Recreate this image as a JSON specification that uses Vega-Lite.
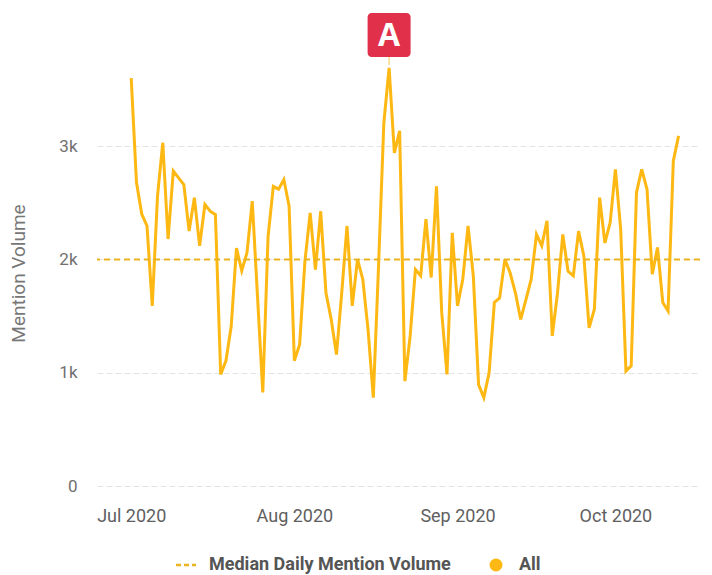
{
  "$schema": "https://vega.github.io/schema/vega-lite/v6.json",
  "width": 603,
  "height": 426,
  "autosize": "none",
  "padding": {"left": 97, "top": 60, "right": 12, "bottom": 89},
  "background": "white",
  "config": {
    "view": {"stroke": null},
    "font": "Roboto"
  },
  "datasets": {
    "series": [
      {"date": "2020-07-01", "mentions": 3600},
      {"date": "2020-07-02", "mentions": 2680},
      {"date": "2020-07-03", "mentions": 2400},
      {"date": "2020-07-04", "mentions": 2295},
      {"date": "2020-07-05", "mentions": 1590},
      {"date": "2020-07-06", "mentions": 2560},
      {"date": "2020-07-07", "mentions": 3030},
      {"date": "2020-07-08", "mentions": 2180},
      {"date": "2020-07-09", "mentions": 2780},
      {"date": "2020-07-10", "mentions": 2720},
      {"date": "2020-07-11", "mentions": 2660},
      {"date": "2020-07-12", "mentions": 2250},
      {"date": "2020-07-13", "mentions": 2545},
      {"date": "2020-07-14", "mentions": 2120},
      {"date": "2020-07-15", "mentions": 2485},
      {"date": "2020-07-16", "mentions": 2425},
      {"date": "2020-07-17", "mentions": 2395},
      {"date": "2020-07-18", "mentions": 985},
      {"date": "2020-07-19", "mentions": 1105},
      {"date": "2020-07-20", "mentions": 1410},
      {"date": "2020-07-21", "mentions": 2100},
      {"date": "2020-07-22", "mentions": 1900},
      {"date": "2020-07-23", "mentions": 2060},
      {"date": "2020-07-24", "mentions": 2515},
      {"date": "2020-07-25", "mentions": 1670},
      {"date": "2020-07-26", "mentions": 825},
      {"date": "2020-07-27", "mentions": 2200},
      {"date": "2020-07-28", "mentions": 2645},
      {"date": "2020-07-29", "mentions": 2620},
      {"date": "2020-07-30", "mentions": 2705},
      {"date": "2020-07-31", "mentions": 2470},
      {"date": "2020-08-01", "mentions": 1105},
      {"date": "2020-08-02", "mentions": 1250},
      {"date": "2020-08-03", "mentions": 1980},
      {"date": "2020-08-04", "mentions": 2410},
      {"date": "2020-08-05", "mentions": 1910},
      {"date": "2020-08-06", "mentions": 2425},
      {"date": "2020-08-07", "mentions": 1705},
      {"date": "2020-08-08", "mentions": 1470},
      {"date": "2020-08-09", "mentions": 1160},
      {"date": "2020-08-10", "mentions": 1705},
      {"date": "2020-08-11", "mentions": 2295},
      {"date": "2020-08-12", "mentions": 1590},
      {"date": "2020-08-13", "mentions": 2000},
      {"date": "2020-08-14", "mentions": 1825},
      {"date": "2020-08-15", "mentions": 1380},
      {"date": "2020-08-16", "mentions": 780},
      {"date": "2020-08-17", "mentions": 1950},
      {"date": "2020-08-18", "mentions": 3205},
      {"date": "2020-08-19", "mentions": 3690},
      {"date": "2020-08-20", "mentions": 2940},
      {"date": "2020-08-21", "mentions": 3135},
      {"date": "2020-08-22", "mentions": 925},
      {"date": "2020-08-23", "mentions": 1325},
      {"date": "2020-08-24", "mentions": 1910},
      {"date": "2020-08-25", "mentions": 1855},
      {"date": "2020-08-26", "mentions": 2355},
      {"date": "2020-08-27", "mentions": 1840},
      {"date": "2020-08-28", "mentions": 2645},
      {"date": "2020-08-29", "mentions": 1530},
      {"date": "2020-08-30", "mentions": 985},
      {"date": "2020-08-31", "mentions": 2235},
      {"date": "2020-09-01", "mentions": 1590},
      {"date": "2020-09-02", "mentions": 1825},
      {"date": "2020-09-03", "mentions": 2295},
      {"date": "2020-09-04", "mentions": 1855},
      {"date": "2020-09-05", "mentions": 895},
      {"date": "2020-09-06", "mentions": 780},
      {"date": "2020-09-07", "mentions": 1000},
      {"date": "2020-09-08", "mentions": 1620},
      {"date": "2020-09-09", "mentions": 1660},
      {"date": "2020-09-10", "mentions": 2000},
      {"date": "2020-09-11", "mentions": 1880},
      {"date": "2020-09-12", "mentions": 1705},
      {"date": "2020-09-13", "mentions": 1470},
      {"date": "2020-09-14", "mentions": 1645},
      {"date": "2020-09-15", "mentions": 1825},
      {"date": "2020-09-16", "mentions": 2220},
      {"date": "2020-09-17", "mentions": 2120},
      {"date": "2020-09-18", "mentions": 2340},
      {"date": "2020-09-19", "mentions": 1325},
      {"date": "2020-09-20", "mentions": 1705},
      {"date": "2020-09-21", "mentions": 2220},
      {"date": "2020-09-22", "mentions": 1895},
      {"date": "2020-09-23", "mentions": 1855},
      {"date": "2020-09-24", "mentions": 2250},
      {"date": "2020-09-25", "mentions": 2030},
      {"date": "2020-09-26", "mentions": 1395},
      {"date": "2020-09-27", "mentions": 1560},
      {"date": "2020-09-28", "mentions": 2545},
      {"date": "2020-09-29", "mentions": 2145},
      {"date": "2020-09-30", "mentions": 2325},
      {"date": "2020-10-01", "mentions": 2795},
      {"date": "2020-10-02", "mentions": 2265},
      {"date": "2020-10-03", "mentions": 1015},
      {"date": "2020-10-04", "mentions": 1060},
      {"date": "2020-10-05", "mentions": 2590},
      {"date": "2020-10-06", "mentions": 2795},
      {"date": "2020-10-07", "mentions": 2620},
      {"date": "2020-10-08", "mentions": 1870},
      {"date": "2020-10-09", "mentions": 2105},
      {"date": "2020-10-10", "mentions": 1620},
      {"date": "2020-10-11", "mentions": 1545},
      {"date": "2020-10-12", "mentions": 2870},
      {"date": "2020-10-13", "mentions": 3090}
    ],
    "median": [{"median": 2000}],
    "annotation": [{"date": "2020-08-19", "mentions": 3690, "label": "A"}]
  },
  "encoding": {
    "x": {
      "field": "date",
      "type": "temporal",
      "scale": {
        "type": "utc",
        "domain": [
          {"year": 2020, "month": 6, "date": 25, "hours": 10, "minutes": 48, "utc": true},
          {"year": 2020, "month": 10, "date": 16, "hours": 2, "minutes": 53, "utc": true}
        ]
      },
      "axis": {
        "title": null,
        "labelExpr": "utcFormat(datum.value, '%b %Y')",
        "tickCount": {"interval": "month", "step": 1},
        "grid": false,
        "domain": false,
        "ticks": false,
        "labelPadding": 21,
        "labelFont": "Roboto",
        "labelFontSize": 18,
        "labelColor": "#606060"
      }
    }
  },
  "layer": [
    {
      "data": {"name": "series"},
      "mark": {"type": "line", "strokeWidth": 3, "clip": false},
      "encoding": {
        "y": {
          "field": "mentions",
          "type": "quantitative",
          "scale": {"domain": [0, 3760], "nice": false, "zero": true},
          "axis": {
            "title": "Mention Volume",
            "values": [0, 1000, 2000, 3000],
            "labelExpr": "datum.value == 0 ? '0' : format(datum.value / 1000, 'd') + 'k'",
            "domain": false,
            "ticks": false,
            "grid": true,
            "gridColor": "#e3e3e3",
            "gridDash": [6, 3],
            "gridWidth": 1,
            "labelPadding": 20,
            "labelFont": "Roboto",
            "labelFontSize": 17,
            "labelColor": "#707070",
            "titleFont": "Roboto",
            "titleFontSize": 19,
            "titleFontWeight": "normal",
            "titleColor": "#777777",
            "titlePadding": 30
          }
        },
        "color": {
          "datum": "All",
          "type": "nominal",
          "scale": {
            "domain": ["Median Daily Mention Volume", "All"],
            "range": ["#E9B321", "#FDB813"]
          },
          "legend": {
            "title": null,
            "orient": "none",
            "direction": "horizontal",
            "legendX": 80,
            "legendY": 496,
            "labelFont": "Roboto",
            "labelFontSize": 18,
            "labelFontWeight": "bold",
            "labelColor": "#555555",
            "labelLimit": 400,
            "labelOffset": 14,
            "columnPadding": 36,
            "symbolSize": 400,
            "encode": {
              "symbols": {
                "update": {
                  "shape": {"signal": "datum.label === 'All' ? 'circle' : 'stroke'"},
                  "fill": {"signal": "datum.label === 'All' ? '#FDB813' : 'transparent'"},
                  "stroke": {"signal": "datum.label === 'All' ? '#FDB813' : '#F4C643'"},
                  "strokeDash": {"signal": "datum.label === 'All' ? [1, 0] : [5, 3]"},
                  "strokeWidth": {"signal": "datum.label === 'All' ? 0 : 2.5"},
                  "size": {"signal": "datum.label === 'All' ? 169 : 400"}
                }
              }
            }
          }
        }
      }
    },
    {
      "data": {"name": "median"},
      "mark": {"type": "rule", "strokeDash": [6, 4], "strokeWidth": 2},
      "encoding": {
        "x": null,
        "y": {"field": "median", "type": "quantitative"},
        "color": {"datum": "Median Daily Mention Volume", "type": "nominal"}
      }
    },
    {
      "data": {"name": "annotation"},
      "mark": {"type": "rule", "color": "#F8D98A", "strokeWidth": 1.5, "yOffset": -3, "y2Offset": -11},
      "encoding": {
        "y": {"field": "mentions", "type": "quantitative"},
        "y2": {"field": "mentions"}
      }
    },
    {
      "data": {"name": "annotation"},
      "mark": {"type": "bar", "width": 43, "color": "#E0304A", "cornerRadius": 4, "yOffset": -11, "y2Offset": -55, "clip": false},
      "encoding": {
        "y": {"field": "mentions", "type": "quantitative"},
        "y2": {"field": "mentions"}
      }
    },
    {
      "data": {"name": "annotation"},
      "mark": {"type": "text", "color": "white", "font": "Open Sans", "fontSize": 32, "fontWeight": "bold", "baseline": "middle", "align": "center", "yOffset": -32},
      "encoding": {
        "y": {"field": "mentions", "type": "quantitative"},
        "text": {"field": "label"}
      }
    }
  ]
}
